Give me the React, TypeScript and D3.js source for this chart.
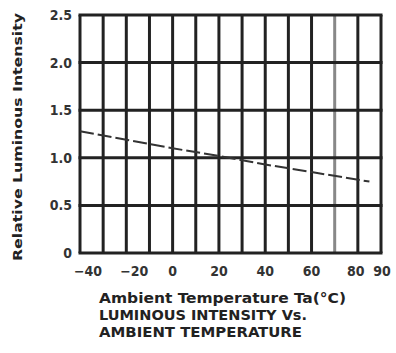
import React, { useEffect, useRef } from "react";
import * as d3 from "d3";

// temperature (°C) vs relative luminous intensity
const temps = [-40, -20, 0, 20, 40, 60, 85];
const intensity = [1.28, 1.19, 1.1, 1.02, 0.93, 0.85, 0.75];

const xTicks = [-40, -20, 0, 20, 40, 60, 80, 90];
const yTicks = [0, 0.5, 1.0, 1.5, 2.0, 2.5];
const yTickLabels = ["0", "0.5", "1.0", "1.5", "2.0", "2.5"];
const xGrid = d3.range(-40, 91, 10);

const yTitle = "Relative Luminous Intensity";
const captions = [
  "Ambient Temperature Ta(°C)",
  "LUMINOUS INTENSITY Vs.",
  "AMBIENT TEMPERATURE",
];
const captionWidths = [247, 208, 203];

const App = () => {
  const svgRef = useRef<SVGSVGElement>(null);

  useEffect(() => {
    const W = 396;
    const H = 353;
    const margin = { top: 15, right: 15, bottom: 100, left: 80 };
    const width = W - margin.left - margin.right;

    const root = d3.select(svgRef.current);
    root.selectAll("*").remove();
    root.attr("width", W).attr("height", H);

    const svg = root
      .append("g")
      .attr("transform", `translate(${margin.left},${margin.top})`);

    const x = d3.scaleLinear().domain([-40, 90]).range([0, width]);
    const y = d3.scaleLinear().domain([0, 2.5]).range([238, 0]);

    // vertical grid
    svg
      .selectAll(".vg")
      .data(xGrid)
      .enter()
      .append("line")
      .attr("x1", (d) => x(d))
      .attr("x2", (d) => x(d))
      .attr("y1", y(0))
      .attr("y2", y(2.5))
      .attr("stroke", (d) => (d === 70 ? "#888" : "#222"))
      .attr("stroke-width", 3);

    // horizontal grid
    svg
      .selectAll(".hg")
      .data(yTicks)
      .enter()
      .append("line")
      .attr("x1", x(-40) - 1.5)
      .attr("x2", x(90) + 1.5)
      .attr("y1", (d) => y(d))
      .attr("y2", (d) => y(d))
      .attr("stroke", "#222")
      .attr("stroke-width", 3);

    // y tick labels
    svg
      .selectAll(".yl")
      .data(yTicks)
      .enter()
      .append("text")
      .attr("x", -8)
      .attr("y", (d) => y(d))
      .attr("dy", "0.35em")
      .attr("text-anchor", "end")
      .attr("font-family", "DejaVu Sans Condensed, DejaVu Sans, sans-serif")
      .attr("font-weight", "bold")
      .attr("font-size", 14)
      .attr("fill", "#333")
      .text((d, i) => yTickLabels[i]);

    // x tick labels
    svg
      .selectAll(".xl")
      .data(xTicks)
      .enter()
      .append("text")
      .attr("x", (d) => x(d) + (d === 80 ? -2 : d === 90 ? 1 : d < 0 ? 8 : 0))
      .attr("y", y(0) + 23)
      .attr("text-anchor", "middle")
      .attr("font-family", "DejaVu Sans Condensed, DejaVu Sans, sans-serif")
      .attr("font-weight", "bold")
      .attr("font-size", 14)
      .attr("fill", "#333")
      .text((d) => (d < 0 ? "\u2212" + Math.abs(d) : String(d)));

    // curve
    const line = d3
      .line<number>()
      .x((d, i) => x(temps[i]))
      .y((d) => y(d));

    svg
      .append("path")
      .datum(intensity)
      .attr("fill", "none")
      .attr("stroke", "#333")
      .attr("stroke-width", 2)
      .attr("stroke-dasharray", "14,4")
      .attr("d", line);

    // y title
    root
      .append("text")
      .attr("transform", `translate(22,${(12 + 262) / 2}) rotate(-90)`)
      .attr("text-anchor", "middle")
      .attr("font-family", "DejaVu Sans Condensed, DejaVu Sans, sans-serif")
      .attr("font-weight", "bold")
      .attr("font-size", 13)
      .attr("fill", "#222")
      .attr("textLength", 248)
      .attr("lengthAdjust", "spacingAndGlyphs")
      .text(yTitle);

    // captions
    root
      .selectAll(".cap")
      .data(captions)
      .enter()
      .append("text")
      .attr("x", 99)
      .attr("y", (d, i) => 303 + i * 17)
      .attr("font-family", "DejaVu Sans Condensed, DejaVu Sans, sans-serif")
      .attr("font-weight", "bold")
      .attr("font-size", 14)
      .attr("fill", "#222")
      .attr("textLength", (d, i) => captionWidths[i])
      .attr("lengthAdjust", "spacingAndGlyphs")
      .text((d) => d);
  }, []);

  return (
    <div style={{ position: "absolute", left: 0, top: 0 }}>
      <svg ref={svgRef}></svg>
    </div>
  );
};

export default App;
